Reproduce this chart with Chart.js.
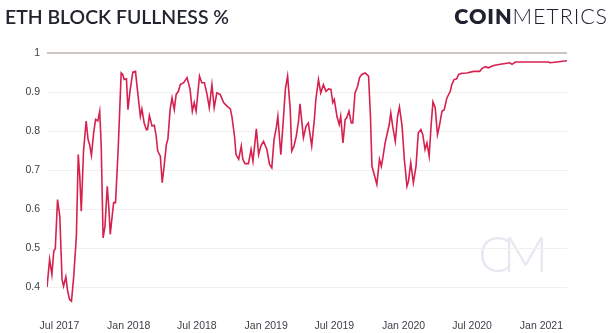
<!DOCTYPE html>
<html>
<head>
<meta charset="utf-8">
<script src="https://cdn.jsdelivr.net/npm/chart.js@4"></script>
<style>
  html, body { margin: 0; padding: 0; background: #fff; }
  #wrap { position: relative; width: 616px; height: 333px; overflow: hidden; }
  #title {
    position: absolute; left: 5px; top: 7px;
    font: 600 19.4px/20px Lato, sans-serif; color: #22242f; white-space: nowrap;
  }
  #logo {
    position: absolute; right: 8px; top: 6px;
    font: 21.5px/21px Lato, sans-serif; color: #20222f; white-space: nowrap; letter-spacing: 0.9px;
  }
  #logo b { font-weight: 800; }
  #logo span { font-weight: 300; }
  #mark {
    position: absolute; left: 478px; top: 228px;
    font: 300 50px/50px Lato, sans-serif; color: #e6e9f1; letter-spacing: -9px;
  }
  canvas { position: absolute; left: 0; top: 0; }
</style>
</head>
<body>
<div id="wrap">
  <div id="mark">CM</div>
  <canvas id="chart" width="616" height="333"></canvas>
  <div id="title">ETH BLOCK FULLNESS %</div>
  <div id="logo"><b>COIN</b><span>METRICS</span></div>
</div>
<script>
// --- datos ---
const dates = [
  "2017-05-29", "2017-06-05", "2017-06-11", "2017-06-16", "2017-06-20", "2017-06-26",
  "2017-07-02", "2017-07-08", "2017-07-12", "2017-07-18", "2017-07-23", "2017-07-28",
  "2017-08-02", "2017-08-08", "2017-08-15", "2017-08-20", "2017-08-24", "2017-08-28",
  "2017-09-03", "2017-09-10", "2017-09-15", "2017-09-19", "2017-09-24", "2017-09-30",
  "2017-10-05", "2017-10-11", "2017-10-16", "2017-10-20", "2017-10-25", "2017-10-30",
  "2017-11-05", "2017-11-09", "2017-11-13", "2017-11-18", "2017-11-22", "2017-11-27",
  "2017-12-04", "2017-12-12", "2017-12-16", "2017-12-20", "2017-12-26", "2017-12-30",
  "2018-01-05", "2018-01-12", "2018-01-19", "2018-01-24", "2018-02-01", "2018-02-05",
  "2018-02-11", "2018-02-17", "2018-02-20", "2018-02-25", "2018-03-04", "2018-03-10",
  "2018-03-15", "2018-03-19", "2018-03-26", "2018-03-31", "2018-04-05", "2018-04-11",
  "2018-04-15", "2018-04-21", "2018-04-26", "2018-05-02", "2018-05-07", "2018-05-13",
  "2018-05-18", "2018-05-27", "2018-06-05", "2018-06-13", "2018-06-19", "2018-06-24",
  "2018-06-29", "2018-07-08", "2018-07-14", "2018-07-21", "2018-07-28", "2018-08-03",
  "2018-08-10", "2018-08-16", "2018-08-23", "2018-09-01", "2018-09-10", "2018-09-19",
  "2018-09-28", "2018-10-02", "2018-10-09", "2018-10-13", "2018-10-20", "2018-10-27",
  "2018-10-31", "2018-11-06", "2018-11-15", "2018-11-22", "2018-11-27", "2018-12-06",
  "2018-12-12", "2018-12-18", "2018-12-25", "2019-01-03", "2019-01-10", "2019-01-16",
  "2019-01-22", "2019-01-28", "2019-02-01", "2019-02-09", "2019-02-16", "2019-02-21",
  "2019-02-27", "2019-03-06", "2019-03-10", "2019-03-16", "2019-03-22", "2019-03-28",
  "2019-04-01", "2019-04-10", "2019-04-17", "2019-04-23", "2019-05-02", "2019-05-09",
  "2019-05-13", "2019-05-20", "2019-05-26", "2019-06-02", "2019-06-09", "2019-06-16",
  "2019-06-22", "2019-06-27", "2019-07-01", "2019-07-08", "2019-07-14", "2019-07-18",
  "2019-07-24", "2019-07-30", "2019-08-03", "2019-08-09", "2019-08-15", "2019-08-19",
  "2019-08-25", "2019-09-01", "2019-09-06", "2019-09-12", "2019-09-21", "2019-09-30",
  "2019-10-05", "2019-10-09", "2019-10-15", "2019-10-22", "2019-10-29", "2019-11-03",
  "2019-11-07", "2019-11-13", "2019-11-19", "2019-11-24", "2019-11-28", "2019-12-03",
  "2019-12-10", "2019-12-16", "2019-12-21", "2019-12-28", "2020-01-03", "2020-01-10",
  "2020-01-14", "2020-01-20", "2020-01-27", "2020-02-03", "2020-02-09", "2020-02-16",
  "2020-02-21", "2020-02-27", "2020-03-03", "2020-03-09", "2020-03-14", "2020-03-19",
  "2020-03-25", "2020-03-31", "2020-04-05", "2020-04-12", "2020-04-18", "2020-04-25",
  "2020-05-04", "2020-05-08", "2020-05-14", "2020-05-21", "2020-05-26", "2020-06-04",
  "2020-06-17", "2020-07-05", "2020-07-21", "2020-07-27", "2020-08-05", "2020-08-13",
  "2020-08-27", "2020-09-14", "2020-09-27", "2020-10-09", "2020-10-15", "2020-10-24",
  "2020-11-14", "2020-12-20", "2021-01-20", "2021-01-24", "2021-02-11", "2021-03-10"
];

const fullness = [
  0.401, 0.472, 0.433, 0.493, 0.499, 0.625,
  0.582, 0.420, 0.403, 0.427, 0.390, 0.369,
  0.365, 0.429, 0.531, 0.740, 0.685, 0.595,
  0.749, 0.826, 0.779, 0.766, 0.738, 0.796,
  0.830, 0.826, 0.851, 0.762, 0.527, 0.557,
  0.659, 0.608, 0.536, 0.582, 0.617, 0.617,
  0.753, 0.949, 0.945, 0.932, 0.934, 0.855,
  0.907, 0.951, 0.953, 0.907, 0.838, 0.857,
  0.821, 0.804, 0.804, 0.840, 0.813, 0.815,
  0.787, 0.749, 0.736, 0.668, 0.710, 0.766,
  0.779, 0.855, 0.885, 0.855, 0.894, 0.902,
  0.919, 0.924, 0.937, 0.907, 0.851, 0.873,
  0.851, 0.941, 0.924, 0.924, 0.894, 0.860,
  0.919, 0.860, 0.898, 0.894, 0.873, 0.864,
  0.857, 0.838, 0.787, 0.740, 0.728, 0.762,
  0.728, 0.717, 0.717, 0.753, 0.723, 0.806,
  0.740, 0.762, 0.774, 0.753, 0.715, 0.706,
  0.779, 0.809, 0.838, 0.740, 0.834, 0.907,
  0.941, 0.855, 0.749, 0.762, 0.787, 0.826,
  0.870, 0.783, 0.813, 0.821, 0.762, 0.830,
  0.881, 0.932, 0.898, 0.919, 0.902, 0.908,
  0.907, 0.873, 0.881, 0.838, 0.817, 0.838,
  0.770, 0.830, 0.834, 0.851, 0.821, 0.821,
  0.898, 0.915, 0.937, 0.945, 0.949, 0.941,
  0.838, 0.710, 0.689, 0.664, 0.728, 0.710,
  0.732, 0.770, 0.796, 0.817, 0.847, 0.813,
  0.774, 0.838, 0.862, 0.813, 0.728, 0.659,
  0.672, 0.719, 0.668, 0.710, 0.796, 0.804,
  0.791, 0.753, 0.770, 0.736, 0.813, 0.875,
  0.860, 0.791, 0.813, 0.851, 0.855, 0.885,
  0.902, 0.919, 0.932, 0.934, 0.945, 0.948,
  0.949, 0.953, 0.953, 0.960, 0.965, 0.962,
  0.968, 0.971, 0.973, 0.975, 0.971, 0.977,
  0.977, 0.977, 0.977, 0.975, 0.977, 0.980
];

const xTickDates = ["2017-07-01", "2018-01-01", "2018-07-01", "2019-01-01", "2019-07-01", "2020-01-01", "2020-07-01", "2021-01-01"];
const xTickLabels = ["Jul 2017", "Jan 2018", "Jul 2018", "Jan 2019", "Jul 2019", "Jan 2020", "Jul 2020", "Jan 2021"];
const yTicks = [0.4, 0.5, 0.6, 0.7, 0.8, 0.9, 1];

document.addEventListener("DOMContentLoaded", () => {
  const points = dates.map((d, i) => ({ x: Date.parse(d), y: fullness[i] }));
  const tickTimes = xTickDates.map(d => Date.parse(d));

  const ctx = document.getElementById("chart").getContext("2d");
  new Chart(ctx, {
    type: "line",
    data: {
      datasets: [{
        label: "ETH block fullness",
        data: points,
        borderColor: "#d6214f",
        borderWidth: 1.6,
        pointRadius: 0,
        tension: 0,
        fill: false
      }]
    },
    options: {
      responsive: false,
      animation: false,
      layout: { padding: { top: 53, right: 49, left: 0, bottom: 0 } },
      plugins: {
        legend: { display: false },
        tooltip: { enabled: false }
      },
      scales: {
        x: {
          type: "linear",
          min: points[0].x,
          max: points[points.length - 1].x,
          grid: { display: false },
          border: { display: false },
          afterBuildTicks: s => { s.ticks = tickTimes.map(v => ({ value: v })); },
          afterFit: s => { s.height = 26; },
          ticks: {
            padding: 5,
            maxRotation: 0,
            autoSkip: false,
            color: "#3f4048",
            font: { family: "Liberation Sans", size: 10.5 },
            callback: (v, i) => xTickLabels[i]
          }
        },
        y: {
          min: 0.35,
          max: 1,
          border: { display: false },
          afterBuildTicks: s => { s.ticks = yTicks.map(v => ({ value: v })); },
          afterFit: s => { s.width = 47; },
          grid: {
            drawTicks: false,
            color: c => c.tick && c.tick.value === 1 ? "#cbc6c2" : "#f0f0f0",
            lineWidth: c => c.tick && c.tick.value === 1 ? 2 : 1
          },
          ticks: {
            padding: 7,
            color: "#3f4048",
            font: { family: "Liberation Sans", size: 10.5 },
            callback: v => String(v)
          }
        }
      }
    }
  });
});
</script>
</body>
</html>
